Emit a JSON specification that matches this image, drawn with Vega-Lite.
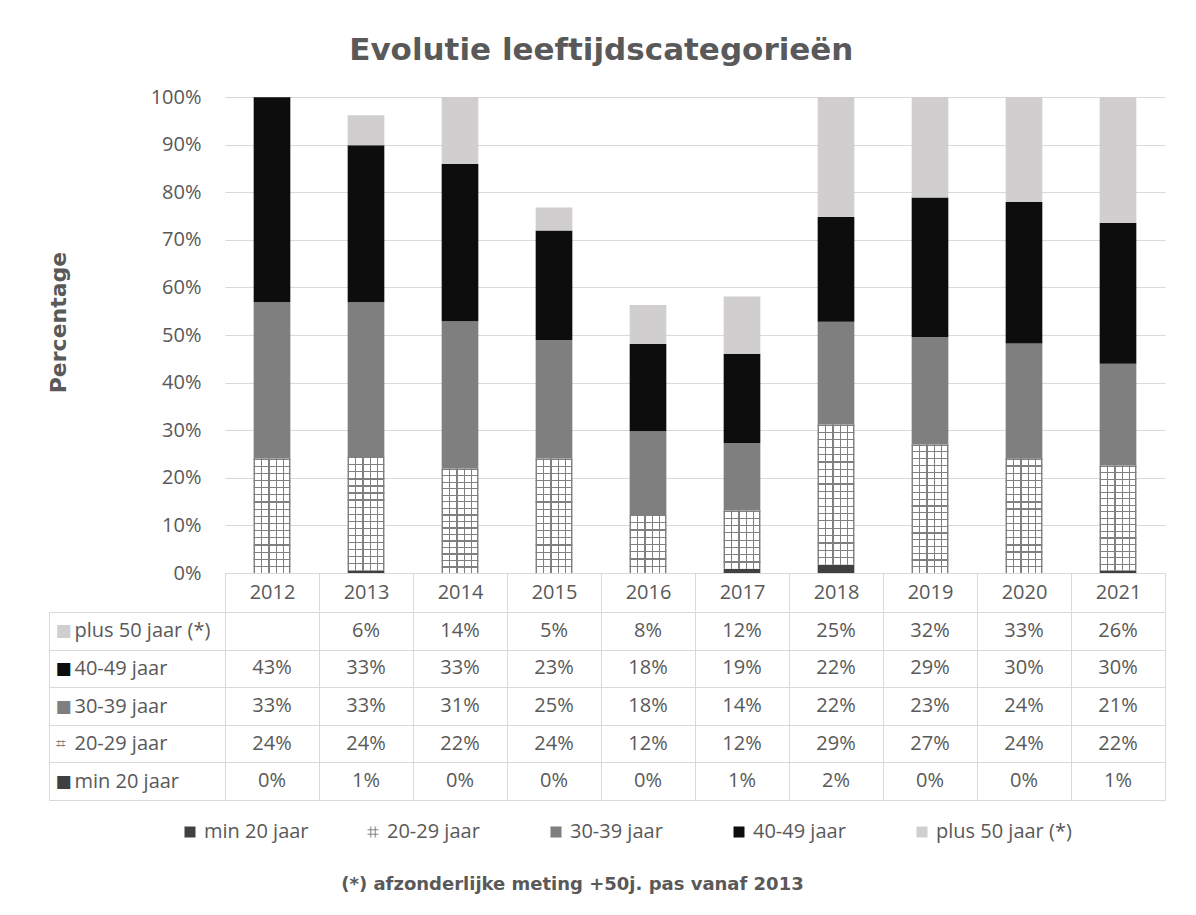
{
  "$schema": "https://vega.github.io/schema/vega-lite/v6.json",
  "background": "#ffffff",
  "padding": {"left": 47, "top": 35, "right": 10, "bottom": 10},
  "title": {"text": "Evolutie leeftijdscategorieën", "font": "DejaVu Sans", "fontSize": 31, "fontWeight": "bold", "color": "#595959", "anchor": "middle", "offset": 20, "dx": -5},
  "data": {"values": [
    {"year": "2012", "cat": "min 20 jaar", "k": 1, "v": 0},
    {"year": "2012", "cat": "20-29 jaar", "k": 2, "v": 0.2407},
    {"year": "2012", "cat": "30-39 jaar", "k": 3, "v": 0.328},
    {"year": "2012", "cat": "40-49 jaar", "k": 4, "v": 0.431},
    {"year": "2013", "cat": "min 20 jaar", "k": 1, "v": 0.006},
    {"year": "2013", "cat": "20-29 jaar", "k": 2, "v": 0.2375},
    {"year": "2013", "cat": "30-39 jaar", "k": 3, "v": 0.3255},
    {"year": "2013", "cat": "40-49 jaar", "k": 4, "v": 0.3295},
    {"year": "2013", "cat": "plus 50 jaar (*)", "k": 5, "v": 0.063},
    {"year": "2014", "cat": "min 20 jaar", "k": 1, "v": 0},
    {"year": "2014", "cat": "20-29 jaar", "k": 2, "v": 0.219},
    {"year": "2014", "cat": "30-39 jaar", "k": 3, "v": 0.31},
    {"year": "2014", "cat": "40-49 jaar", "k": 4, "v": 0.33},
    {"year": "2014", "cat": "plus 50 jaar (*)", "k": 5, "v": 0.141},
    {"year": "2015", "cat": "min 20 jaar", "k": 1, "v": 0},
    {"year": "2015", "cat": "20-29 jaar", "k": 2, "v": 0.2407},
    {"year": "2015", "cat": "30-39 jaar", "k": 3, "v": 0.249},
    {"year": "2015", "cat": "40-49 jaar", "k": 4, "v": 0.23},
    {"year": "2015", "cat": "plus 50 jaar (*)", "k": 5, "v": 0.048},
    {"year": "2016", "cat": "min 20 jaar", "k": 1, "v": 0},
    {"year": "2016", "cat": "20-29 jaar", "k": 2, "v": 0.122},
    {"year": "2016", "cat": "30-39 jaar", "k": 3, "v": 0.176},
    {"year": "2016", "cat": "40-49 jaar", "k": 4, "v": 0.183},
    {"year": "2016", "cat": "plus 50 jaar (*)", "k": 5, "v": 0.082},
    {"year": "2017", "cat": "min 20 jaar", "k": 1, "v": 0.009},
    {"year": "2017", "cat": "20-29 jaar", "k": 2, "v": 0.1225},
    {"year": "2017", "cat": "30-39 jaar", "k": 3, "v": 0.1415},
    {"year": "2017", "cat": "40-49 jaar", "k": 4, "v": 0.1875},
    {"year": "2017", "cat": "plus 50 jaar (*)", "k": 5, "v": 0.1205},
    {"year": "2018", "cat": "min 20 jaar", "k": 1, "v": 0.018},
    {"year": "2018", "cat": "20-29 jaar", "k": 2, "v": 0.294},
    {"year": "2018", "cat": "30-39 jaar", "k": 3, "v": 0.216},
    {"year": "2018", "cat": "40-49 jaar", "k": 4, "v": 0.22},
    {"year": "2018", "cat": "plus 50 jaar (*)", "k": 5, "v": 0.252},
    {"year": "2019", "cat": "min 20 jaar", "k": 1, "v": 0},
    {"year": "2019", "cat": "20-29 jaar", "k": 2, "v": 0.27},
    {"year": "2019", "cat": "30-39 jaar", "k": 3, "v": 0.226},
    {"year": "2019", "cat": "40-49 jaar", "k": 4, "v": 0.293},
    {"year": "2019", "cat": "plus 50 jaar (*)", "k": 5, "v": 0.32},
    {"year": "2020", "cat": "min 20 jaar", "k": 1, "v": 0},
    {"year": "2020", "cat": "20-29 jaar", "k": 2, "v": 0.241},
    {"year": "2020", "cat": "30-39 jaar", "k": 3, "v": 0.241},
    {"year": "2020", "cat": "40-49 jaar", "k": 4, "v": 0.298},
    {"year": "2020", "cat": "plus 50 jaar (*)", "k": 5, "v": 0.33},
    {"year": "2021", "cat": "min 20 jaar", "k": 1, "v": 0.006},
    {"year": "2021", "cat": "20-29 jaar", "k": 2, "v": 0.22},
    {"year": "2021", "cat": "30-39 jaar", "k": 3, "v": 0.2135},
    {"year": "2021", "cat": "40-49 jaar", "k": 4, "v": 0.296},
    {"year": "2021", "cat": "plus 50 jaar (*)", "k": 5, "v": 0.264}
  ]},
  "spacing": -11,
  "vconcat": [
    {
      "width": 940,
      "height": 476,
      "transform": [{"stack": "v", "groupby": ["year"], "sort": [{"field": "k", "order": "ascending"}], "as": ["v0", "v1"]}],
      "encoding": {
        "x": {"field": "year", "type": "ordinal", "scale": {"paddingInner": 0, "paddingOuter": 0},
          "axis": {"title": null, "labelAngle": 0, "labelFont": "Open Sans", "labelFontSize": 20, "labelColor": "#595959", "labelBaseline": "middle", "labelPadding": -19, "tickBand": "extent", "tickSize": 38, "tickColor": "#d9d9d9", "domainColor": "#d9d9d9", "grid": false}},
        "y": {"field": "v0", "type": "quantitative", "scale": {"domain": [0, 1], "nice": false},
          "axis": {"title": "Percentage", "format": ".0%", "values": [0, 0.1, 0.2, 0.3, 0.4, 0.5, 0.6, 0.7, 0.8, 0.9, 1], "grid": true, "gridColor": "#d9d9d9", "domain": false, "ticks": false, "labelPadding": 24, "labelFont": "Open Sans", "labelFontSize": 20, "labelColor": "#595959", "labelFlush": false, "titleFont": "DejaVu Sans", "titleFontSize": 22, "titleFontWeight": "bold", "titleColor": "#595959", "titlePadding": 80, "titleY": 225}},
        "y2": {"field": "v1"}
      },
      "layer": [
        {
          "mark": {"type": "bar", "clip": true, "width": {"band": 0.39}},
          "encoding": {
            "color": {"field": "cat", "type": "nominal",
              "scale": {"domain": ["min 20 jaar", "20-29 jaar", "30-39 jaar", "40-49 jaar", "plus 50 jaar (*)"], "range": ["#404040", "#bfbfbf", "#7f7f7f", "#0d0d0d", "#d0cece"]},
              "legend": {"orient": "none", "direction": "horizontal", "legendX": -45, "legendY": 725, "title": null, "symbolType": "square", "symbolSize": 121, "symbolStrokeWidth": 0, "labelFont": "Open Sans", "labelFontSize": 20, "labelColor": "#595959", "labelOffset": 4, "columnPadding": 23, "gridAlign": "all", "labelLimit": 300,
                "encode": {"symbols": {"update": {
                  "shape": {"signal": "datum.value === '20-29 jaar' ? 'M-0.4,-1V1M0.4,-1V1M-1,-0.4H1M-1,0.4H1' : 'square'"},
                  "stroke": {"signal": "datum.value === '20-29 jaar' ? '#808080' : 'transparent'"},
                  "strokeWidth": {"signal": "datum.value === '20-29 jaar' ? 1 : 0"}
                }}}}}
          }
        },
        {
          "transform": [{"filter": "datum.cat === '20-29 jaar'"}],
          "mark": {"type": "bar", "width": {"band": 0.39},
            "fill": {"gradient": "linear", "x1": 0, "y1": 0, "x2": 1, "y2": 0, "stops": [
              {"offset": 0, "color": "#808080"}, {"offset": 0.035, "color": "#808080"}, {"offset": 0.035, "color": "#ffffff"}, {"offset": 0.2, "color": "#ffffff"},
              {"offset": 0.2, "color": "#808080"}, {"offset": 0.235, "color": "#808080"}, {"offset": 0.235, "color": "#ffffff"}, {"offset": 0.4, "color": "#ffffff"},
              {"offset": 0.4, "color": "#808080"}, {"offset": 0.435, "color": "#808080"}, {"offset": 0.435, "color": "#ffffff"}, {"offset": 0.6, "color": "#ffffff"},
              {"offset": 0.6, "color": "#808080"}, {"offset": 0.635, "color": "#808080"}, {"offset": 0.635, "color": "#ffffff"}, {"offset": 0.8, "color": "#ffffff"},
              {"offset": 0.8, "color": "#808080"}, {"offset": 0.835, "color": "#808080"}, {"offset": 0.835, "color": "#ffffff"}, {"offset": 0.965, "color": "#ffffff"},
              {"offset": 0.965, "color": "#808080"}, {"offset": 1, "color": "#808080"}
            ]}}
        },
        {
          "transform": [{"filter": "datum.cat === '20-29 jaar'"}],
          "mark": {"type": "bar", "width": {"band": 0.39}},
          "encoding": {
            "fill": {
              "condition": [
                {"test": "datum.year === '2016' || datum.year === '2017'", "value": {"gradient": "linear", "x1": 0, "y1": 0, "x2": 0, "y2": 1, "stops": [
                  {"offset": 0, "color": "#808080"}, {"offset": 0.021, "color": "#808080"}, {"offset": 0.021, "color": "rgba(128,128,128,0)"}, {"offset": 0.125, "color": "rgba(128,128,128,0)"},
                  {"offset": 0.125, "color": "#808080"}, {"offset": 0.146, "color": "#808080"}, {"offset": 0.146, "color": "rgba(128,128,128,0)"}, {"offset": 0.25, "color": "rgba(128,128,128,0)"},
                  {"offset": 0.25, "color": "#808080"}, {"offset": 0.271, "color": "#808080"}, {"offset": 0.271, "color": "rgba(128,128,128,0)"}, {"offset": 0.375, "color": "rgba(128,128,128,0)"},
                  {"offset": 0.375, "color": "#808080"}, {"offset": 0.396, "color": "#808080"}, {"offset": 0.396, "color": "rgba(128,128,128,0)"}, {"offset": 0.5, "color": "rgba(128,128,128,0)"},
                  {"offset": 0.5, "color": "#808080"}, {"offset": 0.521, "color": "#808080"}, {"offset": 0.521, "color": "rgba(128,128,128,0)"}, {"offset": 0.625, "color": "rgba(128,128,128,0)"},
                  {"offset": 0.625, "color": "#808080"}, {"offset": 0.646, "color": "#808080"}, {"offset": 0.646, "color": "rgba(128,128,128,0)"}, {"offset": 0.75, "color": "rgba(128,128,128,0)"},
                  {"offset": 0.75, "color": "#808080"}, {"offset": 0.771, "color": "#808080"}, {"offset": 0.771, "color": "rgba(128,128,128,0)"}, {"offset": 0.875, "color": "rgba(128,128,128,0)"},
                  {"offset": 0.875, "color": "#808080"}, {"offset": 0.896, "color": "#808080"}, {"offset": 0.896, "color": "rgba(128,128,128,0)"}, {"offset": 1, "color": "rgba(128,128,128,0)"}
                ]}},
                {"test": "datum.year === '2018' || datum.year === '2019'", "value": {"gradient": "linear", "x1": 0, "y1": 0, "x2": 0, "y2": 1, "stops": [
                  {"offset": 0, "color": "#808080"}, {"offset": 0.009, "color": "#808080"}, {"offset": 0.009, "color": "rgba(128,128,128,0)"}, {"offset": 0.0526, "color": "rgba(128,128,128,0)"},
                  {"offset": 0.0526, "color": "#808080"}, {"offset": 0.0616, "color": "#808080"}, {"offset": 0.0616, "color": "rgba(128,128,128,0)"}, {"offset": 0.1053, "color": "rgba(128,128,128,0)"},
                  {"offset": 0.1053, "color": "#808080"}, {"offset": 0.1143, "color": "#808080"}, {"offset": 0.1143, "color": "rgba(128,128,128,0)"}, {"offset": 0.1579, "color": "rgba(128,128,128,0)"},
                  {"offset": 0.1579, "color": "#808080"}, {"offset": 0.1669, "color": "#808080"}, {"offset": 0.1669, "color": "rgba(128,128,128,0)"}, {"offset": 0.2105, "color": "rgba(128,128,128,0)"},
                  {"offset": 0.2105, "color": "#808080"}, {"offset": 0.2195, "color": "#808080"}, {"offset": 0.2195, "color": "rgba(128,128,128,0)"}, {"offset": 0.2632, "color": "rgba(128,128,128,0)"},
                  {"offset": 0.2632, "color": "#808080"}, {"offset": 0.2722, "color": "#808080"}, {"offset": 0.2722, "color": "rgba(128,128,128,0)"}, {"offset": 0.3158, "color": "rgba(128,128,128,0)"},
                  {"offset": 0.3158, "color": "#808080"}, {"offset": 0.3248, "color": "#808080"}, {"offset": 0.3248, "color": "rgba(128,128,128,0)"}, {"offset": 0.3684, "color": "rgba(128,128,128,0)"},
                  {"offset": 0.3684, "color": "#808080"}, {"offset": 0.3774, "color": "#808080"}, {"offset": 0.3774, "color": "rgba(128,128,128,0)"}, {"offset": 0.4211, "color": "rgba(128,128,128,0)"},
                  {"offset": 0.4211, "color": "#808080"}, {"offset": 0.4301, "color": "#808080"}, {"offset": 0.4301, "color": "rgba(128,128,128,0)"}, {"offset": 0.4737, "color": "rgba(128,128,128,0)"},
                  {"offset": 0.4737, "color": "#808080"}, {"offset": 0.4827, "color": "#808080"}, {"offset": 0.4827, "color": "rgba(128,128,128,0)"}, {"offset": 0.5263, "color": "rgba(128,128,128,0)"},
                  {"offset": 0.5263, "color": "#808080"}, {"offset": 0.5353, "color": "#808080"}, {"offset": 0.5353, "color": "rgba(128,128,128,0)"}, {"offset": 0.5789, "color": "rgba(128,128,128,0)"},
                  {"offset": 0.5789, "color": "#808080"}, {"offset": 0.5879, "color": "#808080"}, {"offset": 0.5879, "color": "rgba(128,128,128,0)"}, {"offset": 0.6316, "color": "rgba(128,128,128,0)"},
                  {"offset": 0.6316, "color": "#808080"}, {"offset": 0.6406, "color": "#808080"}, {"offset": 0.6406, "color": "rgba(128,128,128,0)"}, {"offset": 0.6842, "color": "rgba(128,128,128,0)"},
                  {"offset": 0.6842, "color": "#808080"}, {"offset": 0.6932, "color": "#808080"}, {"offset": 0.6932, "color": "rgba(128,128,128,0)"}, {"offset": 0.7368, "color": "rgba(128,128,128,0)"},
                  {"offset": 0.7368, "color": "#808080"}, {"offset": 0.7458, "color": "#808080"}, {"offset": 0.7458, "color": "rgba(128,128,128,0)"}, {"offset": 0.7895, "color": "rgba(128,128,128,0)"},
                  {"offset": 0.7895, "color": "#808080"}, {"offset": 0.7985, "color": "#808080"}, {"offset": 0.7985, "color": "rgba(128,128,128,0)"}, {"offset": 0.8421, "color": "rgba(128,128,128,0)"},
                  {"offset": 0.8421, "color": "#808080"}, {"offset": 0.8511, "color": "#808080"}, {"offset": 0.8511, "color": "rgba(128,128,128,0)"}, {"offset": 0.8947, "color": "rgba(128,128,128,0)"},
                  {"offset": 0.8947, "color": "#808080"}, {"offset": 0.9037, "color": "#808080"}, {"offset": 0.9037, "color": "rgba(128,128,128,0)"}, {"offset": 0.9474, "color": "rgba(128,128,128,0)"},
                  {"offset": 0.9474, "color": "#808080"}, {"offset": 0.9564, "color": "#808080"}, {"offset": 0.9564, "color": "rgba(128,128,128,0)"}, {"offset": 1, "color": "rgba(128,128,128,0)"}
                ]}}
              ],
              "value": {"gradient": "linear", "x1": 0, "y1": 0, "x2": 0, "y2": 1, "stops": [
                {"offset": 0, "color": "#808080"}, {"offset": 0.011, "color": "#808080"}, {"offset": 0.011, "color": "rgba(128,128,128,0)"}, {"offset": 0.0625, "color": "rgba(128,128,128,0)"},
                {"offset": 0.0625, "color": "#808080"}, {"offset": 0.0735, "color": "#808080"}, {"offset": 0.0735, "color": "rgba(128,128,128,0)"}, {"offset": 0.125, "color": "rgba(128,128,128,0)"},
                {"offset": 0.125, "color": "#808080"}, {"offset": 0.136, "color": "#808080"}, {"offset": 0.136, "color": "rgba(128,128,128,0)"}, {"offset": 0.1875, "color": "rgba(128,128,128,0)"},
                {"offset": 0.1875, "color": "#808080"}, {"offset": 0.1985, "color": "#808080"}, {"offset": 0.1985, "color": "rgba(128,128,128,0)"}, {"offset": 0.25, "color": "rgba(128,128,128,0)"},
                {"offset": 0.25, "color": "#808080"}, {"offset": 0.261, "color": "#808080"}, {"offset": 0.261, "color": "rgba(128,128,128,0)"}, {"offset": 0.3125, "color": "rgba(128,128,128,0)"},
                {"offset": 0.3125, "color": "#808080"}, {"offset": 0.3235, "color": "#808080"}, {"offset": 0.3235, "color": "rgba(128,128,128,0)"}, {"offset": 0.375, "color": "rgba(128,128,128,0)"},
                {"offset": 0.375, "color": "#808080"}, {"offset": 0.386, "color": "#808080"}, {"offset": 0.386, "color": "rgba(128,128,128,0)"}, {"offset": 0.4375, "color": "rgba(128,128,128,0)"},
                {"offset": 0.4375, "color": "#808080"}, {"offset": 0.4485, "color": "#808080"}, {"offset": 0.4485, "color": "rgba(128,128,128,0)"}, {"offset": 0.5, "color": "rgba(128,128,128,0)"},
                {"offset": 0.5, "color": "#808080"}, {"offset": 0.511, "color": "#808080"}, {"offset": 0.511, "color": "rgba(128,128,128,0)"}, {"offset": 0.5625, "color": "rgba(128,128,128,0)"},
                {"offset": 0.5625, "color": "#808080"}, {"offset": 0.5735, "color": "#808080"}, {"offset": 0.5735, "color": "rgba(128,128,128,0)"}, {"offset": 0.625, "color": "rgba(128,128,128,0)"},
                {"offset": 0.625, "color": "#808080"}, {"offset": 0.636, "color": "#808080"}, {"offset": 0.636, "color": "rgba(128,128,128,0)"}, {"offset": 0.6875, "color": "rgba(128,128,128,0)"},
                {"offset": 0.6875, "color": "#808080"}, {"offset": 0.6985, "color": "#808080"}, {"offset": 0.6985, "color": "rgba(128,128,128,0)"}, {"offset": 0.75, "color": "rgba(128,128,128,0)"},
                {"offset": 0.75, "color": "#808080"}, {"offset": 0.761, "color": "#808080"}, {"offset": 0.761, "color": "rgba(128,128,128,0)"}, {"offset": 0.8125, "color": "rgba(128,128,128,0)"},
                {"offset": 0.8125, "color": "#808080"}, {"offset": 0.8235, "color": "#808080"}, {"offset": 0.8235, "color": "rgba(128,128,128,0)"}, {"offset": 0.875, "color": "rgba(128,128,128,0)"},
                {"offset": 0.875, "color": "#808080"}, {"offset": 0.886, "color": "#808080"}, {"offset": 0.886, "color": "rgba(128,128,128,0)"}, {"offset": 0.9375, "color": "rgba(128,128,128,0)"},
                {"offset": 0.9375, "color": "#808080"}, {"offset": 0.9485, "color": "#808080"}, {"offset": 0.9485, "color": "rgba(128,128,128,0)"}, {"offset": 1, "color": "rgba(128,128,128,0)"}
              ]}
            }
          }
        }
      ]
    },
    {
      "width": 940,
      "height": 188,
      "transform": [{"filter": "datum.v != null"}],
      "layer": [
        {
          "mark": {"type": "text", "font": "Open Sans", "fontSize": 20, "color": "#595959"},
          "encoding": {
            "x": {"field": "year", "type": "ordinal", "scale": {"paddingInner": 0, "paddingOuter": 0},
              "axis": {"grid": true, "tickBand": "extent", "gridColor": "#d9d9d9", "labels": false, "ticks": false, "domain": false,
                "title": "(*) afzonderlijke meting +50j. pas vanaf 2013", "titleFont": "DejaVu Sans", "titleFontSize": 18, "titleFontWeight": "bold", "titleColor": "#595959", "titleX": 347, "titleY": 84, "titleBaseline": "middle", "titleAnchor": "middle"}},
            "y": {"field": "cat", "type": "nominal", "sort": ["plus 50 jaar (*)", "40-49 jaar", "30-39 jaar", "20-29 jaar", "min 20 jaar"], "scale": {"paddingInner": 0, "paddingOuter": 0},
              "axis": {"title": null, "orient": "left", "tickBand": "extent", "grid": true, "gridColor": "#d9d9d9", "ticks": true, "tickSize": 176, "tickColor": "#d9d9d9", "domain": false, "labelAlign": "left", "labelPadding": -25, "labelFont": "Open Sans", "labelFontSize": 20, "labelColor": "#595959", "labelLimit": 300}},
            "text": {"field": "v", "type": "quantitative", "format": ".0%"}
          }
        },
        {
          "mark": {"type": "text", "opacity": 0},
          "encoding": {
            "x": {"field": "year", "type": "ordinal"},
            "y": {"field": "cat", "type": "nominal", "sort": ["plus 50 jaar (*)", "40-49 jaar", "30-39 jaar", "20-29 jaar", "min 20 jaar"], "scale": {"paddingInner": 0, "paddingOuter": 0},
              "axis": {"title": null, "orient": "left", "offset": 176, "grid": false, "ticks": false, "domain": true, "domainColor": "#d9d9d9", "labelAlign": "left", "labelPadding": -6, "labelFont": "DejaVu Sans", "labelFontSize": 17,
                "labelExpr": "datum.value === '20-29 jaar' ? '⌗' : '■'",
                "labelColor": {"condition": [
                  {"test": "datum.value === 'plus 50 jaar (*)'", "value": "#d0cece"},
                  {"test": "datum.value === '40-49 jaar'", "value": "#0d0d0d"},
                  {"test": "datum.value === '30-39 jaar'", "value": "#7f7f7f"},
                  {"test": "datum.value === '20-29 jaar'", "value": "#808080"}
                ], "value": "#404040"}}},
            "text": {"value": ""}
          }
        }
      ],
      "resolve": {"scale": {"y": "independent"}}
    }
  ],
  "config": {"view": {"stroke": null}, "font": "Open Sans"}
}
